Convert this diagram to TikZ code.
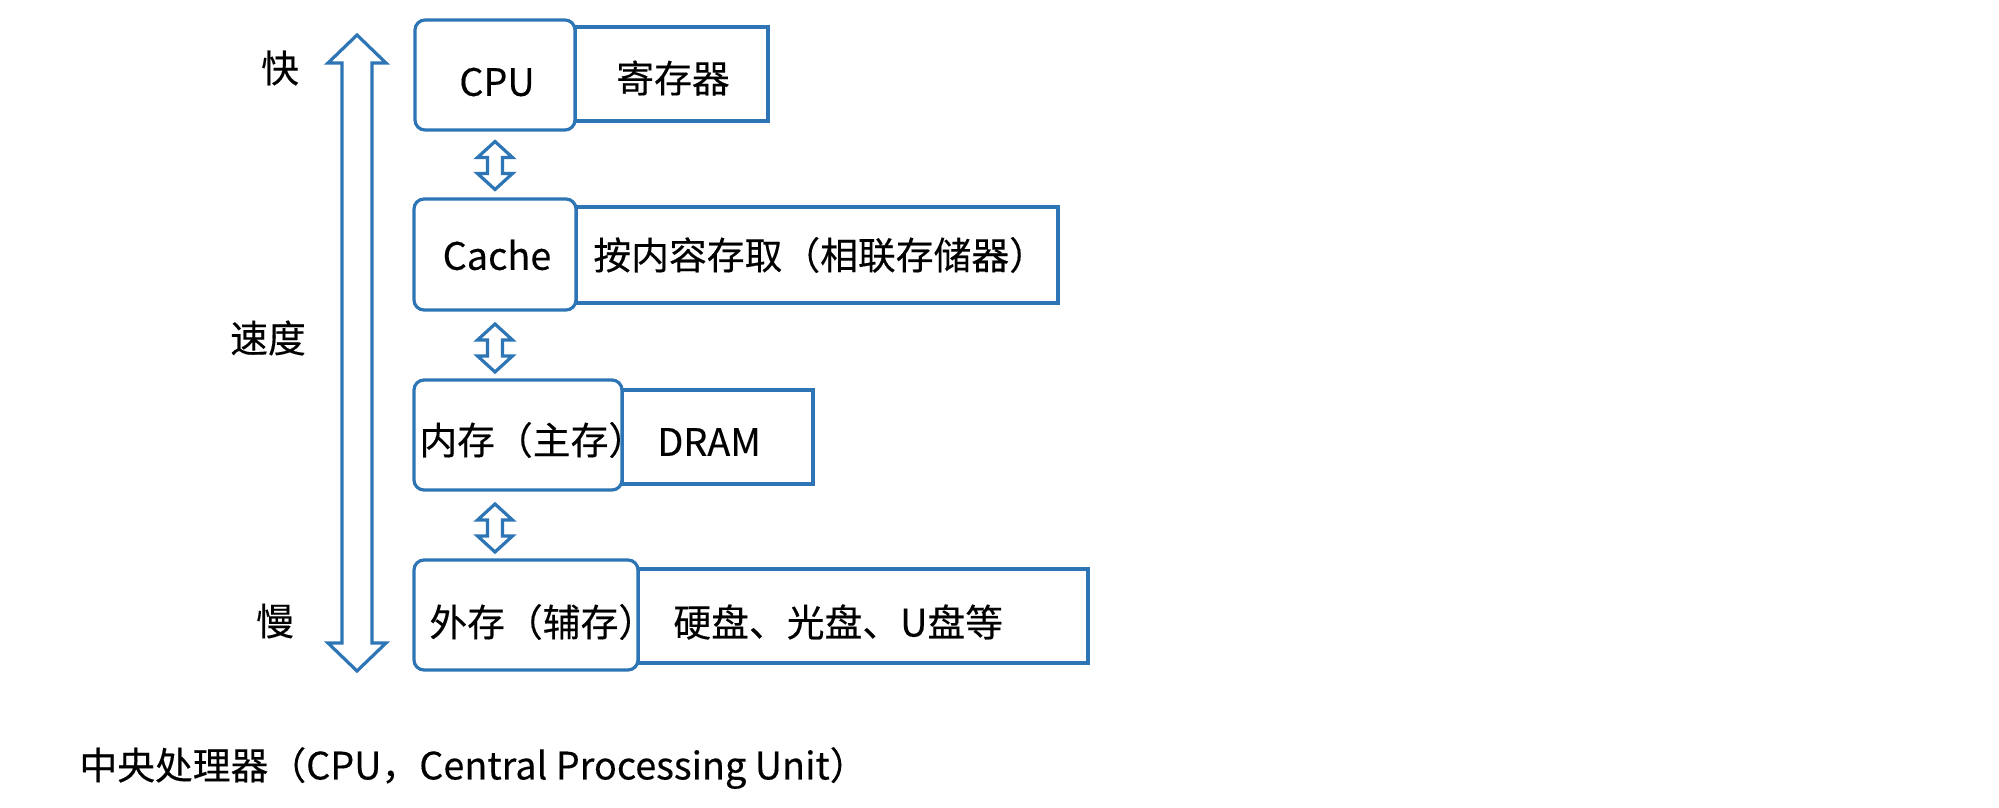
\documentclass[tikz,border=0pt]{standalone}
\usepackage{fontspec}
\setmainfont[FakeBold=0.3]{Noto Sans CJK SC}
\usetikzlibrary{calc}
\definecolor{lineblue}{RGB}{46,117,182}
\begin{document}
\begin{tikzpicture}[x=0.5pt,y=-0.5pt,
  every node/.style={font=\fontsize{18.9}{22}\selectfont, inner sep=0pt, text=black},
  rbox/.style={draw=lineblue, line width=1.6pt, rounded corners=5pt, fill=white},
  sbox/.style={draw=lineblue, line width=1.6pt, fill=white},
  arr/.style={draw=lineblue, line width=1.6pt, line join=miter, fill=white},
  dbl/.pic={\draw[arr] (0,-24) -- (17.5,-8) -- (7.5,-8) -- (7.5,8) -- (17.5,8) -- (0,24)
     -- (-17.5,8) -- (-7.5,8) -- (-7.5,-8) -- (-17.5,-8) -- cycle;}
]
\useasboundingbox[fill=white] (0,0) rectangle (1999,808);

% speed arrow
\draw[arr] (357,35) -- (386,63) -- (372,63) -- (372,643) -- (386,643) -- (357,671)
  -- (328,643) -- (342,643) -- (342,63) -- (328,63) -- cycle;
\node (fast) at (280,68) {快};
\node (speed) at (268,338) {速度};
\node (slow) at (275,621) {慢};

% right boxes
\node[sbox, minimum width=96.5pt, minimum height=47pt] (reg) at (671.5,74) {};
\node[sbox, minimum width=241pt, minimum height=48pt] (assoc) at (817,255) {};
\node[sbox, minimum width=95.5pt, minimum height=47pt] (dram) at (717.5,437) {};
\node[sbox, minimum width=225pt, minimum height=47pt] (disk) at (863,616) {};

% left rounded boxes
\node[rbox, minimum width=80pt, minimum height=55pt] (cpu) at (495,75) {};
\node[rbox, minimum width=81pt, minimum height=55.5pt] (cache) at (495,254.5) {};
\node[rbox, minimum width=104pt, minimum height=55pt] (mem) at (518,435) {};
\node[rbox, minimum width=112pt, minimum height=55pt] (ext) at (526,615) {};

% texts
\node (tcpu) at (497,82) {CPU};
\node (treg) at (673,78) {寄存器};
\node (tcache) at (497,255) {Cache};
\node[anchor=west] (tassoc) at (593,255) {按内容存取（相联存储器）};
\node[anchor=west] (tmem) at (419,440) {内存（主存）};
\node[anchor=west] (tdram) at (657,442) {DRAM};
\node[anchor=west] (text) at (429,622) {外存（辅存）};
\node[anchor=west] (tdisk) at (673,622) {硬盘、光盘、U盘等};

% small double arrows
\pic at ($(cpu.south)!0.5!(cache.north)+(0,1)$) {dbl};
\pic at ($(cache.south)!0.5!(cache.south |- mem.north)+(0,3)$) {dbl};
\pic at ($(cache.south |- mem.south)!0.5!(cache.south |- ext.north)+(0,3)$) {dbl};

% caption
\node[anchor=west] (caption) at (79,768) {中央处理器（CPU，Central Processing Unit）};
\end{tikzpicture}
\end{document}
